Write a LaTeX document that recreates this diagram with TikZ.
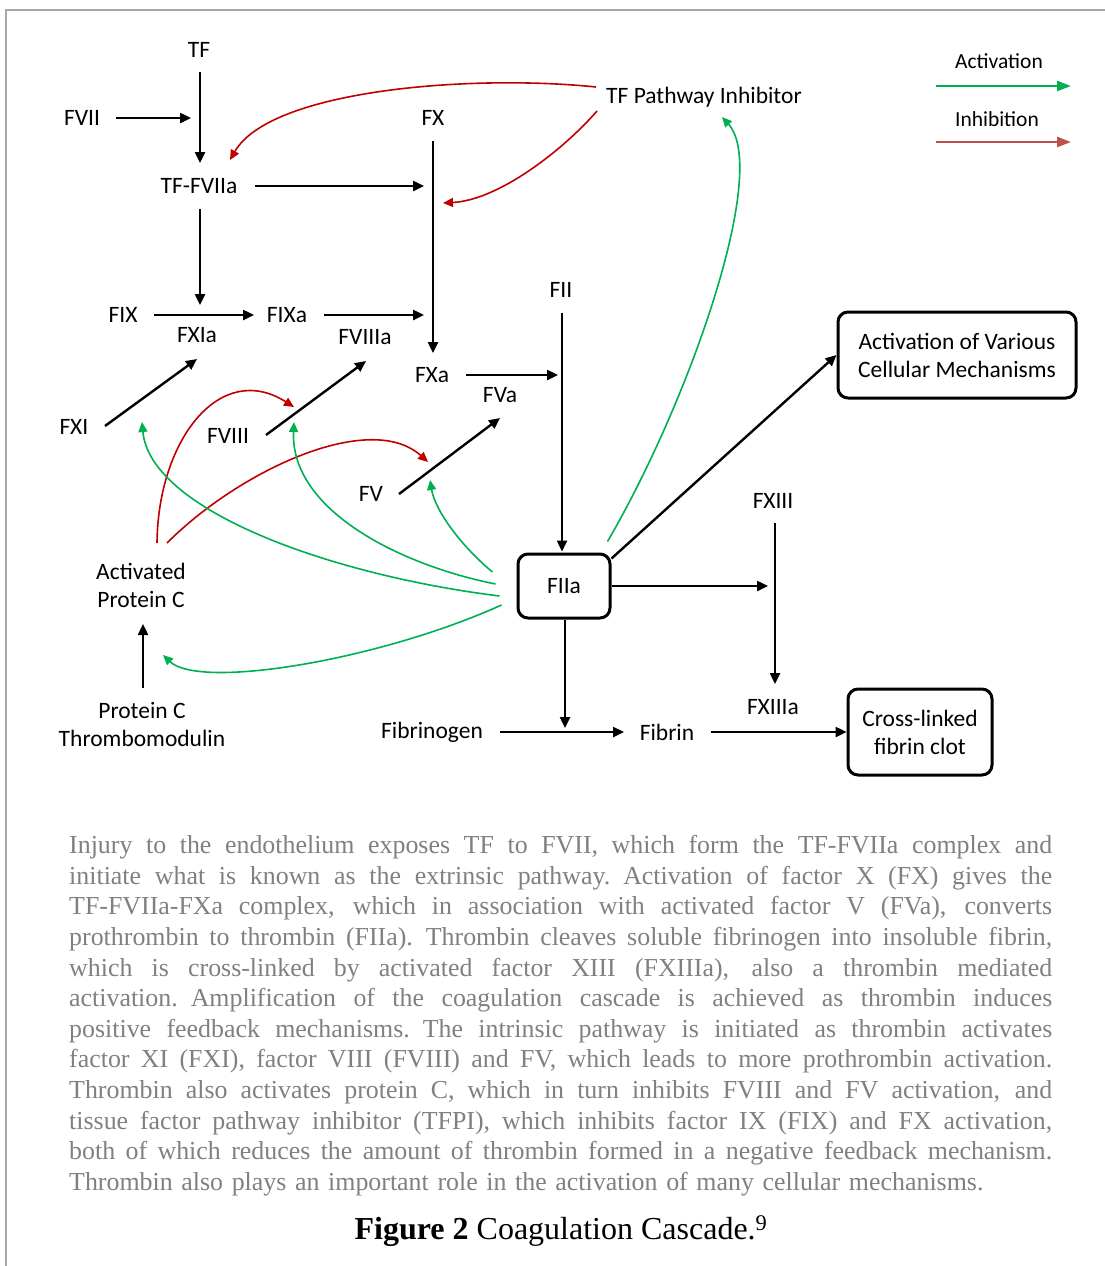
\documentclass[tikz,border=0pt]{standalone}
\usepackage{fontspec}
\setmainfont{Liberation Serif}
\newfontfamily\calfont{Carlito}
\usetikzlibrary{arrows.meta,calc}
\definecolor{inhred}{HTML}{C00000}
\definecolor{actgreen}{HTML}{00B050}
\definecolor{legred}{HTML}{C0504D}
\definecolor{capgray}{HTML}{808080}
\definecolor{framegray}{HTML}{A6A6A6}
\tikzset{
  lbl/.style={font=\calfont\fontsize{23.5}{28}\selectfont, inner sep=0pt, align=center},
  rbox/.style={lbl, draw, line width=3pt, rounded corners=10pt},
  blk/.style={line width=2.4pt, -{Triangle[length=11pt,width=10pt]}},
  inh/.style={draw=inhred, line width=1.6pt, -{Triangle[length=10pt,width=9pt]}, inhred},
  act/.style={draw=actgreen, line width=1.6pt, -{Triangle[length=10pt,width=9pt]}, actgreen},
}
\newcommand{\capline}[1]{\hbox to 983pt{\spaceskip=0.25em plus 0.6em minus 0.05em\relax #1}}
\begin{document}
\begin{tikzpicture}[x=1pt,y=-1pt]
\useasboundingbox (0,0) rectangle (1105,1266);
\draw[framegray, line width=2pt] (6,1266) -- (6,10) -- (1105,10);

% nodes
\node[lbl] (tf) at (199,50) {TF};
\node[lbl] (fvii) at (82,118) {FVII};
\node[lbl] (tffviia) at (199,186) {TF-FVIIa};
\node[lbl] (fx) at (433,118) {FX};
\node[lbl] (tfpi) at (704,97) {TF Pathway Inhibitor};
\node[lbl] (fix) at (123,315) {FIX};
\node[lbl] (fxia) at (197,335) {FXIa};
\node[lbl] (fixa) at (287,315) {FIXa};
\node[lbl] (fviiia) at (365,337) {FVIIIa};
\node[lbl] (fxa) at (432,375) {FXa};
\node[lbl] (fva) at (500,395) {FVa};
\node[lbl] (fii) at (561,290) {FII};
\node[lbl] (fxi) at (74,427) {FXI};
\node[lbl] (fviii) at (228,436) {FVIII};
\node[lbl] (fv) at (371,494) {FV};
\node[lbl] (apc) at (141,585) {Activated\\Protein C};
\node[lbl] (pc) at (142,724) {Protein C\\Thrombomodulin};
\node[rbox, minimum width=92pt, minimum height=64pt] (fiia) at (564,586) {FIIa};
\node[rbox, minimum width=238pt, minimum height=86pt] (acm) at (957,355) {Activation of Various\\Cellular Mechanisms};
\node[lbl] (fxiii) at (773,501) {FXIII};
\node[lbl] (fxiiia) at (773,707) {FXIIIa};
\node[lbl] (fbg) at (432,732) {Fibrinogen};
\node[lbl] (fibrin) at (667,732) {Fibrin};
\node[rbox, minimum width=144pt, minimum height=86pt] (clot) at (920,732) {Cross-linked\\fibrin clot};

% legend
\node[lbl, font=\calfont\fontsize{21.5}{24}\selectfont] (actlbl) at (999,61) {Activation};
\node[lbl, font=\calfont\fontsize{21.5}{24}\selectfont] (inhlbl) at (997,119) {Inhibition};
\coordinate (la1) at (936,86); \coordinate (la2) at (1071,86);
\coordinate (li1) at (936,142); \coordinate (li2) at (1071,142);
\draw[actgreen, line width=2.6pt, -{Triangle[length=14pt,width=10pt]}] (la1) -- (la2);
\draw[legred, line width=2.6pt, -{Triangle[length=14pt,width=10pt]}] (li1) -- (li2);

% junction coordinates
\coordinate (jA) at (191,118);
\coordinate (jB) at (424,186);
\coordinate (jC) at (200,305);
\coordinate (jD) at (424,315);
\coordinate (jE) at (558,375);
\coordinate (jF) at (768,586);
\coordinate (jG) at (565,728);

% black connectors
\draw[blk] ($(tf)+(1,22)$) -- ($(tffviia)+(1,-23)$);
\draw[blk] ($(fvii)+(34,0)$) -- (jA);
\draw[blk] ($(tffviia)+(56,0)$) -- (jB);
\draw[blk] ($(tffviia)+(1,23)$) -- (jC);
\draw[blk] ($(fix)+(31,0)$) -- ($(fixa)+(-33,0)$);
\draw[blk] ($(fixa)+(37,0)$) -- (jD);
\draw[blk] ($(fx)+(0,23)$) -- ($(fxa)+(1,-22)$);
\draw[blk] ($(fxa)+(34,0)$) -- (jE);
\draw[blk] ($(fii)+(1,23)$) -- ($(fiia.north)+(-2,-1)$);
\draw[blk] ($(fxi)+(31,-1)$) -- ($(fxia)+(0,24)$);
\draw[blk] ($(fviii)+(38,-1)$) -- ($(fviiia)+(1,24)$);
\draw[blk] ($(fv)+(28,0)$) -- ($(fva)+(0,23)$);
\draw[blk] ($(pc)+(1,-36)$) -- ($(apc)+(2,39)$);
\draw[blk] ($(fiia.north east)+(0,6)$) -- (acm.west);
\draw[blk] (fiia.east) -- (jF);
\draw[blk] ($(fxiii)+(2,22)$) -- ($(fxiiia)+(2,-23)$);
\draw[blk] ($(fiia.south)+(1,0)$) -- (jG);
\draw[blk] ($(fbg)+(68,0)$) -- ($(fibrin)+(-43,0)$);
\draw[blk] ($(fibrin)+(44,0)$) -- (clot.west);

% inhibition curves
\draw[inh] ($(tfpi)+(-108,-10)$) .. controls (470,74) and (270,90) .. ($(tffviia)+(31,-26)$);
\draw[inh] ($(tfpi)+(-107,14)$) .. controls (565,148) and (500,200) .. ($(fx)+(10,85)$);
\draw[inh] ($(apc)+(16,-42)$) .. controls (158,440) and (220,360) .. ($(fviii)+(66,-29)$);
\draw[inh] ($(apc)+(26,-42)$) .. controls (240,470) and (370,410) .. ($(fv)+(57,-32)$);

% activation curves
\draw[act] ($(fiia.north west)+(91,-11)$) .. controls (690,400) and (770,170) .. ($(tfpi)+(18,20)$);
\draw[act] ($(fiia.west)+(-24,-14)$) .. controls (460,545) and (435,510) .. ($(fv)+(59,-14)$);
\draw[act] ($(fiia.west)+(-21,-2)$) .. controls (400,565) and (290,510) .. ($(fviii)+(66,-14)$);
\draw[act] ($(fiia.west)+(-17,10)$) .. controls (330,575) and (150,510) .. ($(fxi)+(68,-5)$);
\draw[act] ($(fiia.west)+(-15,19)$) .. controls (380,660) and (200,690) .. ($(apc)+(22,70)$);

% caption text
\node[inner sep=0pt, anchor=north west, text width=983pt, text=capgray,
      font=\fontsize{25.9}{30.65}\selectfont] (captext) at (69,835) {%
\capline{Injury to the endothelium exposes TF to FVII, which form the TF-FVIIa complex and}
\capline{initiate what is known as the extrinsic pathway. Activation of factor X (FX) gives the}
\capline{TF-FVIIa-FXa complex, which in association with activated factor V (FVa), converts}
\capline{prothrombin to thrombin (FIIa). Thrombin cleaves soluble fibrinogen into insoluble fibrin,}
\capline{which is cross-linked by activated factor XIII (FXIIIa), also a thrombin mediated}
\capline{activation. Amplification of the coagulation cascade is achieved as thrombin induces}
\capline{positive feedback mechanisms. The intrinsic pathway is initiated as thrombin activates}
\capline{factor XI (FXI), factor VIII (FVIII) and FV, which leads to more prothrombin activation.}
\capline{Thrombin also activates protein C, which in turn inhibits FVIII and FV activation, and}
\capline{tissue factor pathway inhibitor (TFPI), which inhibits factor IX (FIX) and FX activation,}
\capline{both of which reduces the amount of thrombin formed in a negative feedback mechanism.}
\hbox{Thrombin also plays an important role in the activation of many cellular mechanisms.}};

\node[inner sep=0pt, font=\fontsize{32}{38}\selectfont] (figcap) at (561,1231)
  {\textbf{Figure 2} Coagulation Cascade.\textsuperscript{9}};
\end{tikzpicture}
\end{document}
